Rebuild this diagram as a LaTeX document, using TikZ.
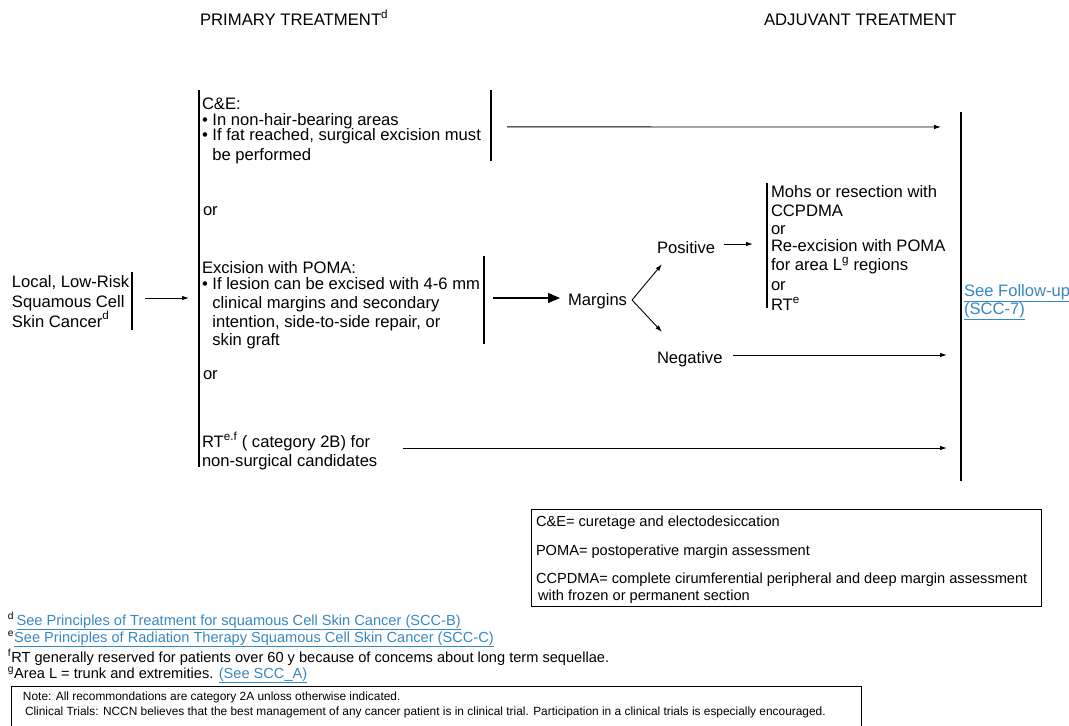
\documentclass[tikz,border=0pt]{standalone}
\usepackage{fontspec}
\setmainfont{Liberation Sans}
\usetikzlibrary{arrows.meta}
\definecolor{linkblue}{RGB}{55,135,195}
% stacked left-aligned lines; the node baseline is the first line's baseline
\newcommand\mlines[1]{\begin{tabular}[t]{@{}l@{}}#1\end{tabular}}
\newcommand\lnk[1]{\textcolor{linkblue}{\underline{#1}}}
\begin{document}
\begin{tikzpicture}[x=1pt,y=-1pt,
  every node/.style={inner sep=0pt, outer sep=0pt},
  txt/.style={anchor=base west, font=\fontsize{16.6}{19}\selectfont},
  head/.style={anchor=base west, font=\fontsize{16.7}{19}\selectfont},
  small/.style={anchor=base west, font=\fontsize{14.6}{17}\selectfont},
  tiny/.style={anchor=base west, font=\fontsize{11.9}{14}\selectfont},
  bar/.style={line width=1.1pt},
  arr/.style={line width=0.9pt, -{Latex[length=7pt,width=4.5pt]}},
  bigarr/.style={line width=1.3pt, -{Triangle[length=12pt,width=10pt]}},
  box/.style={draw, line width=0.9pt, anchor=north west},
]
\useasboundingbox (0,0) rectangle (1069,726);

% column headings
\node[head] (hprim) at (200,25) {PRIMARY TREATMENT\textsuperscript{d}};
\node[head] (hadj) at (764,25) {ADJUVANT TREATMENT};

% diagnosis
\node[txt] (diag) at (12,287) {\mlines{Local, Low-Risk\\[1pt] Squamous Cell\\[1pt] Skin Cancer\smash{\raisebox{1.5pt}{\textsuperscript{d}}}}};
\draw[bar] (132,272) coordinate (diagtop) -- (132,330) coordinate (diagbot);
\coordinate (diagbar) at (132,298);

% primary treatment options
\draw[bar] (199,90) coordinate (primtop) -- (199,467) coordinate (primbot);
\coordinate (primbar) at (199,298);
\draw[arr] ([xshift=13pt]diagbar) -- ([xshift=-10pt]primbar);

\node[txt] (ce) at (202,109) {\mlines{C\&E:\\[-3pt] • In non-hair-bearing areas\\[-4pt] • If fat reached, surgical excision must\\[1pt] \phantom{• }be performed}};
\draw[bar] (491,90) -- (491,161) coordinate[pos=0.52] (cebar);

\node[txt] (or1) at (203,215) {or};

\node[txt] (exc) at (202,273) {\mlines{Excision with POMA:\\[-3pt] • If lesion can be excised with 4-6 mm\\[0pt] \phantom{• }clinical margins and secondary\\[0pt] \phantom{• }intention, side-to-side repair, or\\[-1pt] \phantom{• }skin graft}};
\draw[bar] (484,256) -- (484,344);
\coordinate (excbar) at (484,298);

\node[txt] (or2) at (203,379) {or};

\node[txt] (rt) at (202,447) {\mlines{RT\textsuperscript{e.f} ( category 2B) for\\ non-surgical candidates}};

% margin assessment
\node[txt] (margins) at (568,305) {Margins};
\draw[bigarr] ([xshift=9pt]excbar) -- ([xshift=-8pt]margins.west |- excbar);

\node[txt] (pos) at (657,253) {Positive};
\node[txt] (neg) at (657,363) {Negative};
\coordinate (fork) at ([xshift=5pt]margins.east |- 0,300);
\draw[arr] (fork) -- ([xshift=5pt,yshift=-11pt]pos.south west);
\draw[arr] (fork) -- ([xshift=5pt,yshift=19pt]neg.north west);

\node[txt] (mohs) at (771,197) {\mlines{Mohs or resection with\\ CCPDMA\\[-1pt] or\\[-2pt] Re-excision with POMA\\ for area L\textsuperscript{g} regions\\[1pt] or\\[1pt] RT\textsuperscript{e}}};
\draw[bar] (767,183) -- (767,308);
\draw[arr] ([xshift=9pt]pos.east |- 0,244) -- (753,244) coordinate (mohsin);

% follow-up column
\draw[bar] (961,112) coordinate (futop) -- (961,481) coordinate (fubot);
\node[txt, text=linkblue] (fu) at (964,296) {\mlines{\lnk{See Follow-up}\\[-1pt] \lnk{(SCC-7)}}};

\draw[arr] ([xshift=16pt]cebar) -- (941,127);
\draw[arr] ([xshift=10pt]neg.east |- 0,355) -- (947,355);
\draw[arr] (403,448) -- (947,448);

% abbreviations
\node[box, minimum width=510pt, minimum height=97pt] (legend) at (531,509) {};
\node[small] (legtext) at (536,526) {\mlines{C\&E= curetage and electodesiccation\\[12pt] POMA= postoperative margin assessment\\[11pt] CCPDMA= complete cirumferential peripheral and deep margin assessment\\ \hspace*{2pt}with frozen or permanent section}};

% footnotes
\node[small] (fnd) at (8,625) {\textsuperscript{d}\,\lnk{See Principles of Treatment for squamous Cell Skin Cancer (SCC-B)}};
\node[small] (fne) at (8,642) {\textsuperscript{e}\lnk{See Principles of Radiation Therapy Squamous Cell Skin Cancer (SCC-C)}};
\node[small] (fnf) at (8,662) {\textsuperscript{f}RT generally reserved for patients over 60 y because of concems about long term sequellae.};
\node[small] (fng) at (8,678) {\textsuperscript{g}Area L = trunk and extremities. \lnk{(See SCC\_A)}};

% note
\node[box, minimum width=850pt, minimum height=40pt] (note) at (11,686) {};
\node[tiny] (note1) at (23,700) {Note: All recommondations are category 2A unloss otherwise indicated.};
\node[tiny] (note2) at (25,715) {Clinical Trials: NCCN believes that the best management of any cancer patient is in clinical trial. Participation in a clinical trials is especially encouraged.};
\end{tikzpicture}
\end{document}
